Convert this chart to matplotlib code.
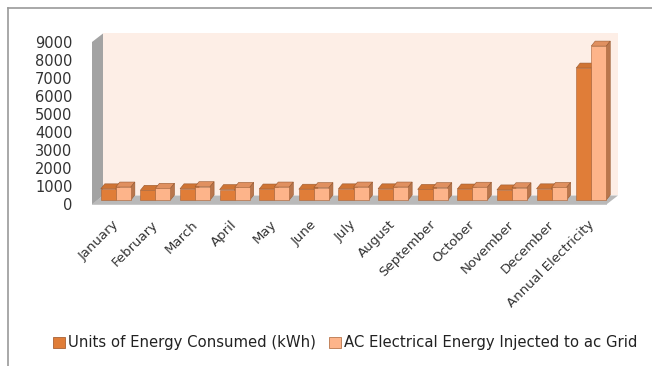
import matplotlib.pyplot as plt
from matplotlib.patches import Polygon, Patch
from matplotlib.lines import Line2D
from matplotlib.transforms import IdentityTransform, ScaledTranslation

categories = ['January', 'February', 'March', 'April', 'May', 'June', 'July',
              'August', 'September', 'October', 'November', 'December',
              'Annual Electricity']
consumed = [620, 540, 620, 580, 610, 600, 620, 620, 590, 610, 560, 620, 7330]
injected = [720, 650, 740, 700, 720, 690, 720, 720, 690, 710, 680, 700, 8550]
yticks = list(range(0, 9001, 1000))

W, H = 652, 366
fig = plt.figure(figsize=(W / 100, H / 100), dpi=100)
ax = fig.add_axes([92 / W, 1 - 204 / H, 515 / W, 162 / H])
ax.set_xlim(-0.5, len(categories) - 0.5)
ax.set_ylim(0, 9000)
ax.patch.set_visible(False)
for s in ax.spines.values():
    s.set_visible(False)

# pseudo-3d geometry in pixels (x right, y up)
wall_dx, wall_dy = 11, 8.5      # depth of the chart box
bar_dx, bar_dy = 4, 5           # depth of each bar
front_dx, front_dy = 4, 4       # bars sit in the middle of the floor
bar_w = 0.38

px = ax.transData.transform
ident = IdentityTransform()


def poly(pts, fc, ec='none', lw=0.0, z=1):
    fig.add_artist(Polygon(pts, closed=True, facecolor=fc, edgecolor=ec,
                           linewidth=lw, transform=ident, zorder=z))


# walls and floor
(x0, y0), (x1, y1) = px((-0.5, 0)), px((len(categories) - 0.5, 9000))
poly([(x0 + wall_dx, y0 + wall_dy), (x1 + wall_dx, y0 + wall_dy),
      (x1 + wall_dx, y1 + wall_dy), (x0 + wall_dx, y1 + wall_dy)], '#fdeee6', z=0.5)
poly([(x0, y0 - 1), (x0 + wall_dx, y0 + wall_dy), (x0 + wall_dx, y1 + wall_dy),
      (x0, y1)], '#a3a3a3', z=0.6)
poly([(x0, y0), (x1, y0), (x1 + wall_dx, y0 + wall_dy),
      (x0 + wall_dx, y0 + wall_dy)], '#b9b9b9', z=0.6)
poly([(x0, y0 - 1.5), (x1, y0 - 1.5), (x1, y0), (x0, y0)], '#c8c8c8', z=0.6)


def bar3d(xc, val, front, side, top):
    (bl, bb), (br, bt) = px((xc - bar_w / 2, 0)), px((xc + bar_w / 2, val))
    bl, br = bl + front_dx, br + front_dx
    bb, bt = bb + front_dy, bt + front_dy
    poly([(bl, bt), (br, bt), (br + bar_dx, bt + bar_dy), (bl + bar_dx, bt + bar_dy)],
         top, ec='#9a5a30', lw=0.4, z=2)
    poly([(br, bb), (br + bar_dx, bb + bar_dy), (br + bar_dx, bt + bar_dy), (br, bt)],
         side, ec='#9a5a30', lw=0.4, z=2)
    poly([(bl, bb), (br, bb), (br, bt), (bl, bt)], front, ec='#a86236', lw=0.4, z=2)


for i in range(len(categories)):
    bar3d(i - bar_w / 2, consumed[i], '#e07d38', '#b8692f', '#cf7434')
    bar3d(i + bar_w / 2, injected[i], '#fdb48a', '#b9764c', '#e09060')

ax.set_yticks(yticks)
ax.set_yticklabels([str(t) for t in yticks], fontsize=10.5, color='#333333')
ax.set_xticks(range(len(categories)))
ax.set_xticklabels(categories, rotation=45, ha='right', va='top',
                   rotation_mode='anchor', fontsize=9.5, color='#333333')
ax.tick_params(axis='both', length=0)
ax.tick_params(axis='y', pad=14)
ax.tick_params(axis='x', pad=10)
shift = ScaledTranslation(0, 0, fig.dpi_scale_trans)
for lab in ax.get_xticklabels():
    lab.set_transform(lab.get_transform() + shift)

# outer chart frame
fig.add_artist(Line2D([8 / W, 8 / W], [0, 1 - 8 / H], color='#9a9a9a', lw=1.2))
fig.add_artist(Line2D([8 / W, 1], [1 - 8 / H, 1 - 8 / H], color='#9a9a9a', lw=1.2))

handles = [Patch(facecolor='#e07d38', edgecolor='#a86236', lw=0.6),
           Patch(facecolor='#fdb48a', edgecolor='#b9764c', lw=0.6)]
fig.legend(handles, ['Units of Energy Consumed (kWh)',
                     'AC Electrical Energy Injected to ac Grid'],
           loc='center', bbox_to_anchor=(345 / W, 1 - 343 / H), ncol=2,
           frameon=False, fontsize=10.7, handlelength=0.8, handleheight=0.8,
           handletextpad=0.2, columnspacing=0.9, labelcolor='#222222')

fig.savefig('out.png', dpi=100, facecolor='white')
